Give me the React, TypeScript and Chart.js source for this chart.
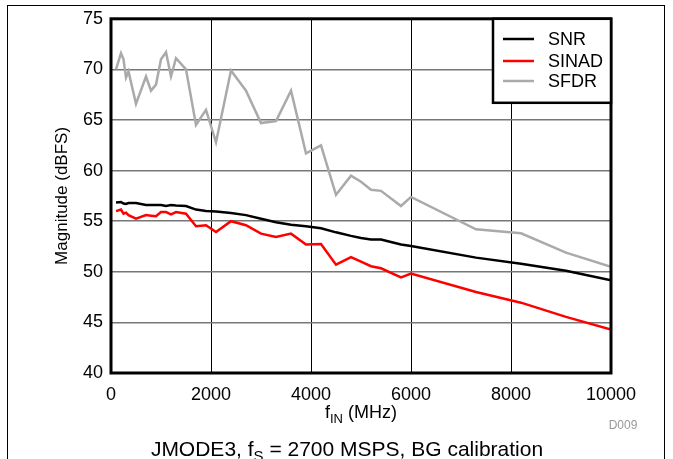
import React, { useEffect, useRef } from "react";
import { Chart, registerables } from "chart.js";

Chart.register(...registerables);

const freqMHz = [100, 200, 250, 300, 350, 500, 700, 800, 900, 1000, 1100, 1200, 1300, 1500, 1700, 1900, 2100, 2400, 2700, 3000, 3300, 3600, 3900, 4200, 4500, 4800, 5000, 5200, 5400, 5800, 6000, 7300, 8200, 9100, 10000];
const snr = [56.85, 56.9, 56.75, 56.7, 56.8, 56.8, 56.6, 56.6, 56.6, 56.6, 56.5, 56.6, 56.55, 56.5, 56.15, 56.0, 55.95, 55.8, 55.6, 55.25, 54.9, 54.65, 54.5, 54.3, 53.9, 53.55, 53.35, 53.2, 53.2, 52.7, 52.55, 51.4, 50.8, 50.1, 49.15];
const sinad = [56.0, 56.15, 55.75, 55.85, 55.6, 55.25, 55.6, 55.55, 55.5, 55.9, 55.9, 55.67, 55.9, 55.74, 54.5, 54.6, 53.93, 55.0, 54.6, 53.77, 53.43, 53.77, 52.7, 52.74, 50.7, 51.46, 51.0, 50.55, 50.35, 49.45, 49.82, 48.0, 46.95, 45.55, 44.3];
const sfdr = [70.0, 71.6, 71.0, 69.2, 69.8, 66.6, 69.3, 67.9, 68.5, 71.0, 71.7, 69.3, 71.1, 70.0, 64.5, 66.0, 62.8, 69.9, 67.9, 64.7, 64.9, 67.9, 61.7, 62.5, 57.6, 59.5, 58.9, 58.1, 58.0, 56.5, 57.4, 54.2, 53.8, 51.9, 50.5];

const seriesNames = ["SNR", "SINAD", "SFDR"];
const seriesColors = ["#000000", "#ff0000", "#aaaaaa"];
const xTicks = [0, 2000, 4000, 6000, 8000, 10000];
const yTicks = [40, 45, 50, 55, 60, 65, 70, 75];

const FONT = "'Liberation Sans', Arial, sans-serif";

const decorPlugin = {
  id: "decor",
  beforeDraw(chart: any) {
    const ctx = chart.ctx;
    ctx.save();
    ctx.fillStyle = "#ffffff";
    ctx.fillRect(0, 0, chart.width, chart.height);
    ctx.strokeStyle = "#000000";
    ctx.lineWidth = 1;
    ctx.strokeRect(7.5, 5.5, 657, 470);
    ctx.restore();
  },
  afterDatasetsDraw(chart: any) {
    const ctx = chart.ctx;
    const a = chart.chartArea;
    ctx.save();
    // plot border
    ctx.strokeStyle = "#000000";
    ctx.lineWidth = 3;
    ctx.strokeRect(a.left, a.top, a.right - a.left, a.bottom - a.top);

    // legend box
    const lx = 493, ly = a.top, lw = a.right - 493, lh = 84;
    ctx.fillStyle = "#ffffff";
    ctx.fillRect(lx, ly, lw, lh);
    ctx.lineWidth = 2.5;
    ctx.strokeRect(lx, ly, lw, lh);
    const rows = [39, 61, 81];
    ctx.font = `18px ${FONT}`;
    ctx.textBaseline = "middle";
    ctx.textAlign = "left";
    seriesNames.forEach((n, i) => {
      ctx.strokeStyle = seriesColors[i];
      ctx.lineWidth = 2.5;
      ctx.beginPath();
      ctx.moveTo(503, rows[i]);
      ctx.lineTo(534, rows[i]);
      ctx.stroke();
      ctx.fillStyle = "#000000";
      ctx.fillText(n, 548, rows[i] + 1);
    });

    // y title
    ctx.save();
    ctx.translate(62, (a.top + a.bottom) / 2);
    ctx.rotate(-Math.PI / 2);
    ctx.textAlign = "center";
    ctx.textBaseline = "middle";
    ctx.font = `17px ${FONT}`;
    ctx.fillStyle = "#000000";
    ctx.fillText("Magnitude (dBFS)", 0, 0);
    ctx.restore();

    // text with subscript
    const drawSub = (parts: [string, boolean][], cx: number, cy: number, size: number) => {
      const subSize = Math.round(size * 0.7);
      let total = 0;
      parts.forEach(([t, sub]) => {
        ctx.font = `${sub ? subSize : size}px ${FONT}`;
        total += ctx.measureText(t).width;
      });
      let x = cx - total / 2;
      ctx.textAlign = "left";
      ctx.textBaseline = "alphabetic";
      parts.forEach(([t, sub]) => {
        ctx.font = `${sub ? subSize : size}px ${FONT}`;
        ctx.fillText(t, x, cy + (sub ? size * 0.25 : 0));
        x += ctx.measureText(t).width;
      });
    };
    ctx.fillStyle = "#000000";
    drawSub([["f", false], ["IN", true], [" (MHz)", false]], 361, 418, 18);

    ctx.fillStyle = "#999999";
    ctx.font = `12px ${FONT}`;
    ctx.textAlign = "center";
    ctx.textBaseline = "middle";
    ctx.fillText("D009", 623, 426);

    ctx.fillStyle = "#000000";
    drawSub([["JMODE3, f", false], ["S", true], [" = 2700 MSPS, BG calibration", false]], 347, 456, 21);
    ctx.restore();
  },
};

export default function App() {
  const ref = useRef<HTMLCanvasElement | null>(null);
  useEffect(() => {
    if (!ref.current) return;
    const mk = (vals: number[]) => freqMHz.map((f, i) => ({ x: f, y: vals[i] }));
    const chart = new Chart(ref.current, {
      type: "line",
      data: {
        datasets: [
          { label: seriesNames[2], data: mk(sfdr), borderColor: seriesColors[2], borderWidth: 2.5, pointRadius: 0, tension: 0, order: 3 },
          { label: seriesNames[0], data: mk(snr), borderColor: seriesColors[0], borderWidth: 2.5, pointRadius: 0, tension: 0, order: 2 },
          { label: seriesNames[1], data: mk(sinad), borderColor: seriesColors[1], borderWidth: 2.5, pointRadius: 0, tension: 0, order: 1 },
        ],
      },
      options: {
        responsive: false,
        animation: false,
        layout: { padding: { left: 0, top: 18, right: 62, bottom: 0 } },
        plugins: { legend: { display: false }, tooltip: { enabled: false }, title: { display: false } },
        scales: {
          x: {
            type: "linear",
            min: 0,
            max: 10000,
            afterBuildTicks: (s: any) => { s.ticks = xTicks.map((v) => ({ value: v })); },
            afterFit: (s: any) => { s.height = 86; },
            grid: { color: "#000000", lineWidth: 1, drawTicks: false },
            border: { display: false },
            ticks: { color: "#000000", font: { family: FONT, size: 18 }, padding: 11, maxRotation: 0, autoSkip: false, callback: (v: any) => String(v) },
          },
          y: {
            type: "linear",
            min: 40,
            max: 75,
            afterBuildTicks: (s: any) => { s.ticks = yTicks.map((v) => ({ value: v })); },
            afterFit: (s: any) => { s.width = 111; },
            grid: { color: "#777777", lineWidth: 1.5, drawTicks: false },
            border: { display: false },
            ticks: { color: "#000000", font: { family: FONT, size: 18 }, padding: 8, autoSkip: false, callback: (v: any) => String(v) },
          },
        },
      },
      plugins: [decorPlugin],
    });
    return () => chart.destroy();
  }, []);
  return (
    <div style={{ position: "fixed", left: 0, top: 0, width: 673, height: 459 }}>
      <canvas ref={ref} width={673} height={459} />
    </div>
  );
}
